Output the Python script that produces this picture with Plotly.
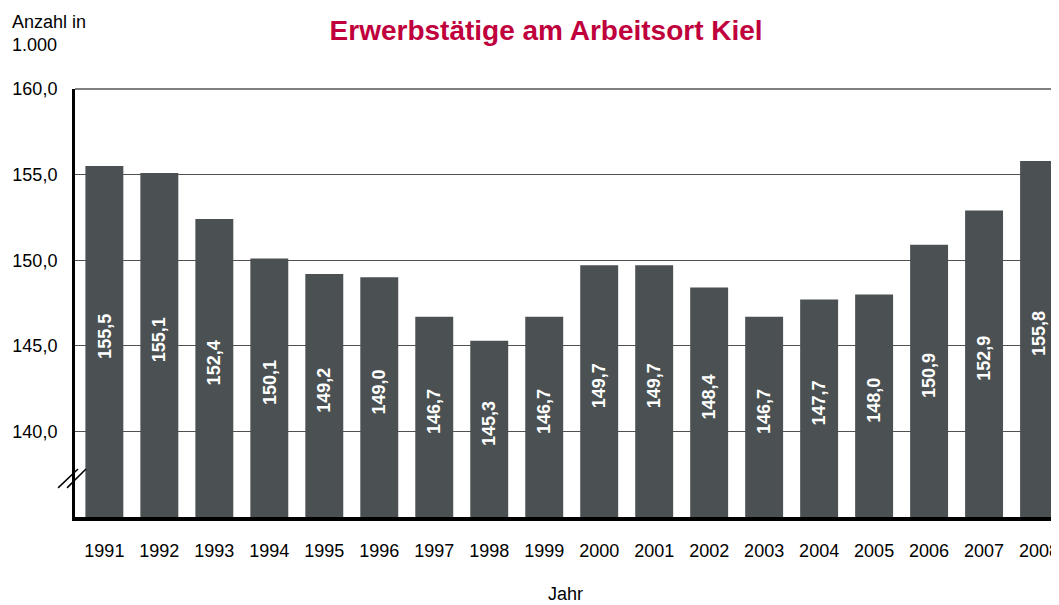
import plotly.graph_objects as go

years = ["1991", "1992", "1993", "1994", "1995", "1996", "1997", "1998", "1999",
         "2000", "2001", "2002", "2003", "2004", "2005", "2006", "2007", "2008"]
values = [155.5, 155.1, 152.4, 150.1, 149.2, 149.0, 146.7, 145.3, 146.7,
          149.7, 149.7, 148.4, 146.7, 147.7, 148.0, 150.9, 152.9, 155.8]
labels = [f"{v:.1f}".replace(".", ",") for v in values]

Y_MIN, Y_MAX = 135, 160
FONT = "Liberation Sans, Arial, sans-serif"

fig = go.Figure()
fig.add_trace(go.Bar(
    x=years, y=values,
    marker=dict(color="#4B5153", line=dict(width=0)),
    width=0.69,
    hoverinfo="x+y",
))

# value labels, rotated, centred in the visible part of each bar
label_annots = [
    dict(x=i, y=(Y_MIN + v) / 2, yshift=5, xref="x", yref="y",
         text=f"<b>{lab}</b>", textangle=-90, showarrow=False,
         font=dict(family=FONT, size=18, color="white"))
    for i, (v, lab) in enumerate(zip(values, labels))
]

fig.update_layout(
    width=1051, height=597,
    margin=dict(l=67, r=0, t=81, b=88),
    plot_bgcolor="white", paper_bgcolor="white",
    showlegend=False,
    font=dict(family=FONT, size=18, color="black"),
    title=dict(text="<b>Erwerbstätige am Arbeitsort Kiel</b>",
               x=0.512, xanchor="center", y=0.963, yanchor="middle",
               font=dict(family=FONT, size=28, color="#C0003C")),
    separators=",.",
    xaxis=dict(type="category", range=[-0.534, 17.29],
               showline=True, linecolor="black", linewidth=4,
               ticks="", showgrid=False, ticklabelstandoff=14,
               tickfont=dict(size=18)),
    yaxis=dict(range=[Y_MIN, Y_MAX], tickvals=[140, 145, 150, 155, 160],
               tickformat=".1f", showline=True, linecolor="black", linewidth=3,
               showgrid=True, gridcolor="#505050", gridwidth=1,
               ticks="", ticklabelstandoff=11, zeroline=False,
               tickfont=dict(size=18)),
    annotations=label_annots + [
        dict(text="Anzahl in<br>1.000", xref="paper", yref="paper",
             x=-65/984, y=1 + 79/428, xanchor="left", yanchor="top",
             align="left", showarrow=False, font=dict(size=18)),
        dict(text="Jahr", xref="paper", yref="paper",
             x=493/984, y=-77/428, xanchor="center", yanchor="middle",
             showarrow=False, font=dict(size=18)),
    ],
    shapes=[
        dict(type="line", xref="paper", yref="paper", x0=0, x1=1, y0=1, y1=1,
             line=dict(color="black", width=1)),
        dict(type="line", xref="paper", yref="y", x0=-17/984, x1=3/984,
             y0=136.7, y1=137.8, line=dict(color="black", width=1.5)),
        dict(type="line", xref="paper", yref="y", x0=-8/984, x1=11/984,
             y0=136.7, y1=137.8, line=dict(color="black", width=1.5)),
    ],
)

fig.write_html("out.html")
